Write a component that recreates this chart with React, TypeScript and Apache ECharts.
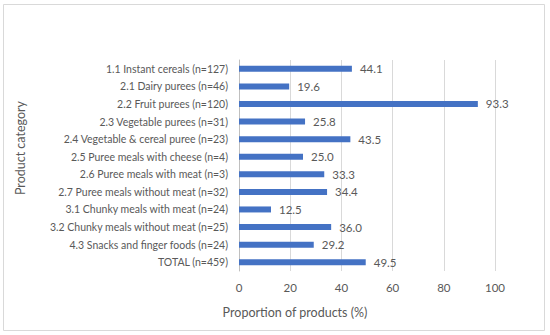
import React, { useEffect, useRef } from "react";
import * as echarts from "echarts";

const categories = [
  "1.1 Instant cereals (n=127)",
  "2.1 Dairy purees (n=46)",
  "2.2 Fruit purees (n=120)",
  "2.3 Vegetable purees (n=31)",
  "2.4 Vegetable & cereal puree (n=23)",
  "2.5 Puree meals with cheese (n=4)",
  "2.6 Puree meals with meat (n=3)",
  "2.7 Puree meals without meat (n=32)",
  "3.1 Chunky meals with meat (n=24)",
  "3.2 Chunky meals without meat (n=25)",
  "4.3 Snacks and finger foods (n=24)",
  "TOTAL (n=459)",
];
const values = [44.1, 19.6, 93.3, 25.8, 43.5, 25.0, 33.3, 34.4, 12.5, 36.0, 29.2, 49.5];
const xTicks = [0, 20, 40, 60, 80, 100];

const FONT = "Lato, 'Open Sans', sans-serif";
const TXT = "#595959";

export default function App() {
  const ref = useRef<HTMLDivElement>(null);
  useEffect(() => {
    const chart = echarts.init(ref.current!, null, { renderer: "svg" });
    chart.setOption({
      animation: false,
      backgroundColor: "#fff",
      textStyle: { fontFamily: FONT },
      grid: { left: 239, right: 55, top: 60, bottom: 64 },
      xAxis: {
        type: "value",
        min: xTicks[0],
        max: xTicks[xTicks.length - 1],
        interval: 20,
        axisLine: { show: false },
        axisTick: { show: false },
        splitLine: { lineStyle: { color: "#d9d9d9", width: 1 } },
        axisLabel: { color: TXT, fontSize: 11.5, fontFamily: FONT, margin: 10 },
      },
      yAxis: {
        type: "category",
        data: categories,
        inverse: true,
        axisLine: { show: true, lineStyle: { color: "#bfbfbf", width: 1 } },
        axisTick: { show: false },
        axisLabel: { color: TXT, fontSize: 10.5, fontFamily: FONT, margin: 11 },
      },
      series: [
        {
          type: "bar",
          data: values,
          barWidth: 6,
          itemStyle: { color: "#4472C4" },
          label: {
            show: true,
            position: "right",
            distance: 8,
            color: TXT,
            fontSize: 11.5,
            fontFamily: FONT,
            formatter: (p: any) => Number(p.value).toFixed(1),
          },
        },
      ],
      graphic: [
        {
          type: "rect",
          shape: { x: 3.5, y: 4.5, width: 541, height: 326 },
          style: { fill: "none", stroke: "#d9d9d9", lineWidth: 1 },
          silent: true,
          z: -1,
        },
        {
          type: "text",
          x: 295,
          y: 312,
          style: {
            text: "Proportion of products (%)",
            fill: TXT,
            font: `12.5px ${FONT}`,
            textAlign: "center",
            textVerticalAlign: "middle",
          },
        },
        {
          type: "text",
          x: 20,
          y: 148,
          rotation: Math.PI / 2,
          style: {
            text: "Product category",
            fill: TXT,
            font: `12.5px ${FONT}`,
            textAlign: "center",
            textVerticalAlign: "middle",
          },
        },
      ],
    });
    return () => chart.dispose();
  }, []);
  return <div ref={ref} style={{ width: 550, height: 335, position: "absolute", left: 0, top: 0 }} />;
}
